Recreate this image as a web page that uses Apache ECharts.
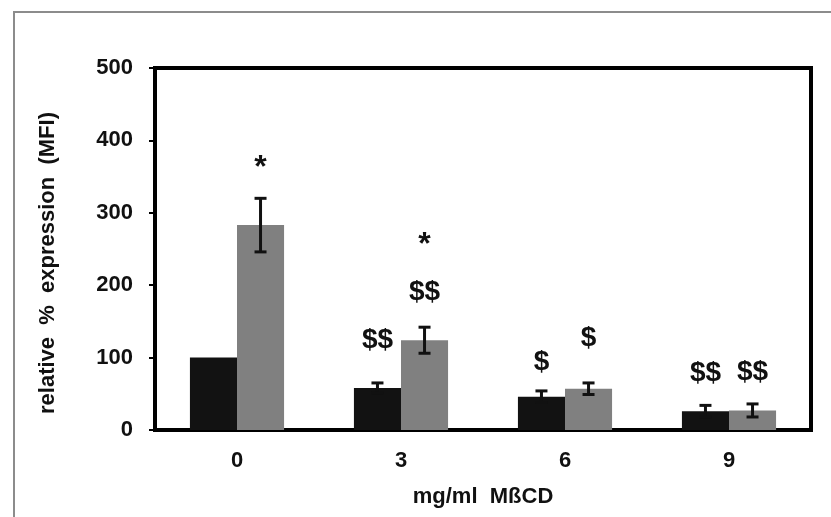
<!DOCTYPE html>
<html>
<head>
<meta charset="utf-8">
<script src="https://cdn.jsdelivr.net/npm/echarts@6/dist/echarts.min.js"></script>
<style>
  html, body { margin: 0; padding: 0; background: #fff; }
  #main { width: 831px; height: 517px; }
</style>
</head>
<body>
<div id="main"></div>
<script>
// categories (mg/ml MβCD)
const doses = ["0", "3", "6", "9"];
// black bars / grey bars (relative % expression)
const blackMean = [100, 58, 46, 26];
const blackErr = [0, 7, 8, 8];
const greyMean = [283, 124, 57, 27];
const greyErr = [37, 18, 8, 9];
// significance marks: text, category, which bar (0 black, 1 grey), height in axis units
const signText = ["*", "*", "$$", "$$", "$", "$", "$$", "$$"];
const signCat = [0, 1, 1, 1, 2, 2, 3, 3];
const signBar = [1, 1, 1, 0, 0, 1, 0, 1];
const signLevel = [373, 267, 190, 124, 94, 127, 79, 80];
const yTicks = [0, 100, 200, 300, 400, 500];

const BAR_FRAC = 0.287;
const font = "Liberation Sans, Arial, sans-serif";

function errData(mean, err) {
  return mean.map((m, i) => [i, m - err[i], m + err[i]]);
}

// error bar drawn at the bar's own offset inside the category band
function errRender(side) {
  return function (params, api) {
    const band = api.size([1, 0])[0];
    const dx = side * band * BAR_FRAC / 2;
    const hi = api.coord([api.value(0), api.value(2)]);
    const lo = api.coord([api.value(0), api.value(1)]);
    if (Math.abs(hi[1] - lo[1]) < 1) return null;
    const x = hi[0] + dx;
    const cap = 6;
    const style = { stroke: "#111", lineWidth: 3 };
    return {
      type: "group",
      children: [
        { type: "line", shape: { x1: x, y1: hi[1], x2: x, y2: lo[1] }, style },
        { type: "line", shape: { x1: x - cap, y1: hi[1], x2: x + cap, y2: hi[1] }, style },
        { type: "line", shape: { x1: x - cap, y1: lo[1], x2: x + cap, y2: lo[1] }, style },
      ],
    };
  };
}

const chart = echarts.init(document.getElementById("main"), null, { renderer: "canvas" });

chart.setOption({
  animation: false,
  backgroundColor: "#fff",
  graphic: [
    {
      type: "rect",
      shape: { x: 14, y: 12, width: 830, height: 520 },
      style: { fill: "none", stroke: "#8c8c8c", lineWidth: 2 },
      silent: true,
      z: -1,
    },
  ],
  grid: {
    left: 155,
    right: 20,
    top: 68,
    bottom: 87,
    show: true,
    borderColor: "#000",
    borderWidth: 4,
    backgroundColor: "transparent",
  },
  xAxis: {
    type: "category",
    data: doses,
    name: "mg/ml  MßCD",
    nameLocation: "middle",
    nameGap: 56,
    nameTextStyle: { color: "#111", fontSize: 22, fontWeight: "bold", fontFamily: font },
    axisLine: { lineStyle: { color: "#000", width: 4 } },
    axisTick: { show: false },
    axisLabel: { color: "#111", fontSize: 22, fontWeight: "bold", fontFamily: font, margin: 20 },
  },
  yAxis: {
    type: "value",
    min: 0,
    max: 500,
    interval: 100,
    name: "relative  %  expression  (MFI)",
    nameLocation: "middle",
    nameGap: 96,
    nameTextStyle: {
      color: "#111",
      fontSize: 22,
      fontWeight: "bold",
      fontFamily: font,
      padding: [0, 28, 0, 0],
    },
    axisLine: { show: true, lineStyle: { color: "#000", width: 4 } },
    axisTick: { show: true, length: 6, lineStyle: { color: "#000", width: 2 } },
    splitLine: { show: false },
    axisLabel: {
      color: "#111",
      fontSize: 22,
      fontWeight: "bold",
      fontFamily: font,
      margin: 22,
      formatter: (v) => (yTicks.includes(v) ? String(v) : ""),
    },
  },
  series: [
    {
      name: "black",
      type: "bar",
      data: blackMean,
      barWidth: BAR_FRAC * 100 + "%",
      barGap: "0%",
      itemStyle: { color: "#121212" },
    },
    {
      name: "grey",
      type: "bar",
      data: greyMean,
      barWidth: BAR_FRAC * 100 + "%",
      barGap: "0%",
      itemStyle: { color: "#808080" },
    },
    {
      type: "custom",
      renderItem: errRender(-1),
      data: errData(blackMean, blackErr),
      encode: { x: 0, y: [1, 2] },
      z: 5,
    },
    {
      type: "custom",
      renderItem: errRender(1),
      data: errData(greyMean, greyErr),
      encode: { x: 0, y: [1, 2] },
      z: 5,
    },
    {
      type: "custom",
      data: signText.map((t, i) => [signCat[i], signLevel[i], signBar[i]]),
      encode: { x: 0, y: 1 },
      z: 6,
      renderItem: function (params, api) {
        const band = api.size([1, 0])[0];
        const side = api.value(2) === 1 ? 1 : -1;
        const p = api.coord([api.value(0), api.value(1)]);
        const t = signText[params.dataIndex];
        const star = t === "*";
        return {
          type: "text",
          x: p[0] + side * band * BAR_FRAC / 2,
          y: p[1] + (star ? 8 : 0),
          style: {
            text: t,
            fill: "#111",
            font: "bold " + (star ? 32 : 28) + "px " + font,
            align: "center",
            verticalAlign: "middle",
          },
        };
      },
    },
  ],
});
</script>
</body>
</html>
